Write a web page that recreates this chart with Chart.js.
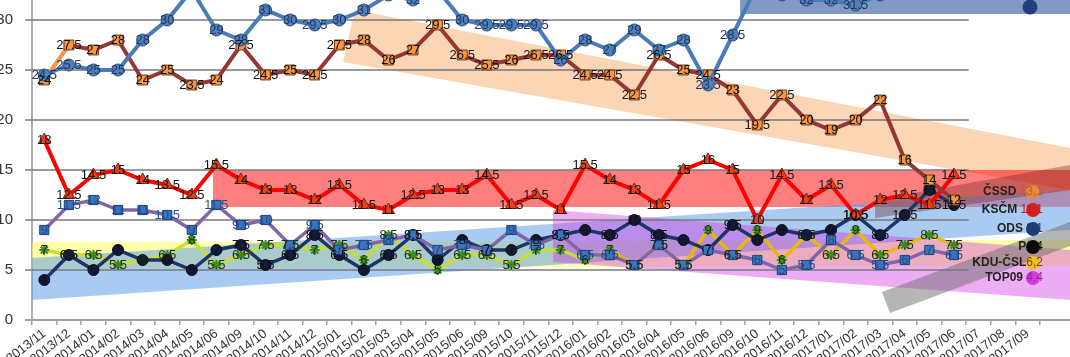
<!DOCTYPE html>
<html><head><meta charset="utf-8">
<style>html,body{margin:0;padding:0;background:#fff;overflow:hidden}#wrap{width:1070px;height:357px}</style>
<script src="https://cdn.jsdelivr.net/npm/chart.js@4.4.1/dist/chart.umd.min.js"></script>
</head><body><div id="wrap"><canvas id="c" width="1070" height="357"></canvas></div>
<script>
const categories = ['2013/11','2013/12','2014/01','2014/02','2014/03','2014/04','2014/05','2014/06','2014/09','2014/10','2014/11','2014/12','2015/01','2015/02','2015/03','2015/04','2015/05','2015/06','2015/09','2015/10','2015/11','2015/12','2016/01','2016/02','2016/03','2016/04','2016/05','2016/06','2016/09','2016/10','2016/11','2016/12','2017/01','2017/02','2017/03','2017/04','2017/05','2017/06','2017/07','2017/08','2017/09'];
const ano   = [24.5,25.5,25,25,28,30,33,29,28,31,30,29.5,30,31,32.5,32,33,30,29.5,29.5,29.5,26,28,27,29,27,28,23.5,28.5,33.5,32.5,32,32,31.5,32.5,33,33,33,null,null,null];
const cssd  = [24,27.5,27,28,24,25,23.5,24,27.5,24.5,25,24.5,27.5,28,26,27,29.5,26.5,25.5,26,26.5,26.5,24.5,24.5,22.5,26.5,25,24.5,23,19.5,22.5,20,19,20,22,16,14,12,null,null,null];
const kscm  = [18,12.5,14.5,15,14,13.5,12.5,15.5,14,13,13,12,13.5,11.5,11,12.5,13,13,14.5,11.5,12.5,11,15.5,14,13,11.5,15,16,15,10,14.5,12,13.5,10.5,12,12.5,11.5,14.5,null,null,null];
const top09 = [9,11.5,12,11,11,10.5,9,11.5,9.5,10,7.5,9.5,7,7.5,8,8.5,7,7.5,7,9,7.5,8.5,6.5,6.5,5.5,7.5,5.5,7,6.5,6,5,5.5,8,6.5,5.5,6,7,6.5,null,null,null];
const ods   = [4,6.5,5,7,6,6,5,7,7.5,5.5,6.5,8.5,6.5,5,6.5,8.5,6,8,7,7,8,8.5,9,8.5,10,8.5,8,7,9.5,8,9,8.5,9,10.5,8.5,10.5,13,11.5,null,null,null];
const kdu   = [7,6.5,6.5,5.5,6,6.5,8,5.5,6.5,7.5,7.5,7,7.5,6,8.5,6.5,5,6.5,6.5,5.5,7,7,6,7,5.5,7.5,5.5,9,6.5,9,6,8.5,6.5,9,6.5,7.5,8.5,7.5,null,null,null];
const yTicks = [0,5,10,15,20,25,30];
const legendNames  = ['ČSSD ','KSČM ','ODS ','P','KDU-ČSL','TOP09 '];
const legendValues = ['13,1','11,1','9,1','6,4','6,2','4,4'];

// layout / style (not data)
const legendY = [12.8,11.0,9.1,7.3,5.7,4.2];
const legendColors = ['#e8883a','#d42020','#1f3d72','#0a0a0a','#f0c020','#d63be0'];
const legendTextColors = ['#b8622a','#c01818','#1f3d72','#0a0a0a','#6a4a10','#8a2a9a'];
const bands = [
  {c:'rgba(248,178,118,0.55)', p:[[12.63,31],[41.72,17.2],[41.72,13],[12.15,25.8]]},
  {c:'rgba(255,0,0,0.5)', p:[[6.86,15],[41.72,15],[41.72,11.3],[6.86,11.3]]},
  {c:'rgba(255,255,80,0.5)', p:[[-0.5,7.8],[41.72,8.0],[41.72,5.4],[-0.5,5.2]]},
  {c:'rgba(100,160,230,0.55)', p:[[-0.5,6.2],[41.72,13.0],[41.72,9.0],[-0.5,2.0]]},
  {c:'rgba(210,50,230,0.4)', p:[[20.69,11],[41.72,7],[41.72,2],[20.69,5.8]]},
  {c:'rgba(110,30,30,0.35)', p:[[33.79,12],[41.72,15.5],[41.72,13],[33.79,10.2]]},
  {c:'rgba(110,110,110,0.5)', p:[[34.07,2.8],[41.72,9.8],[41.72,7.4],[34.4,0.7]]},
  {c:'rgba(60,100,165,0.65)', p:[[28.3,30.6],[41.72,30.6],[41.72,33],[28.3,33]]}
];
const gridEnd = 37.6;

const fmt = v => Number.isInteger(v) ? String(v) : v.toFixed(1);

const bgPlugin = {
  id:'bg',
  beforeDatasetsDraw(chart){
    const {ctx, scales:{x,y}, chartArea:a} = chart;
    ctx.save();
    bands.forEach(b=>{
      ctx.fillStyle=b.c; ctx.beginPath();
      b.p.forEach((q,i)=>{const px=x.getPixelForValue(q[0]), py=y.getPixelForValue(q[1]); i?ctx.lineTo(px,py):ctx.moveTo(px,py);});
      ctx.closePath(); ctx.fill();
    });
    ctx.strokeStyle='rgba(120,120,120,0.75)'; ctx.lineWidth=2;
    const xe = x.getPixelForValue(gridEnd);
    yTicks.forEach(v=>{ if(v===0) return; const py=Math.round(y.getPixelForValue(v)); ctx.beginPath(); ctx.moveTo(a.left-7,py); ctx.lineTo(xe,py); ctx.stroke();});
    const p0=Math.round(y.getPixelForValue(0));
    ctx.strokeStyle='#a0a0a0'; ctx.beginPath(); ctx.moveTo(a.left-7,p0); ctx.lineTo(chart.width,p0); ctx.stroke();
    ctx.restore();
  },
  afterDatasetsDraw(chart){
    const ctx=chart.ctx; ctx.save();
    ctx.font='13px "Liberation Sans", Arial, sans-serif'; ctx.textAlign='center'; ctx.textBaseline='middle';
    chart.data.datasets.forEach((ds,di)=>{
      const meta=chart.getDatasetMeta(di);
      ctx.fillStyle=ds.labelColor;
      meta.data.forEach((pt,i)=>{const v=ds.data[i]; if(v==null) return; ctx.fillText(fmt(v),pt.x,pt.y);});
    });
    ctx.restore();
  },
  afterDraw(chart){
    const {ctx, scales:{y}, chartArea:a}=chart; ctx.save();
    const cx=a.right-7;
    ctx.fillStyle='#1f3f80'; ctx.beginPath(); ctx.arc(cx-3,y.getPixelForValue(31.3),7.5,0,Math.PI*2); ctx.fill();
    legendNames.forEach((n,i)=>{
      const py=y.getPixelForValue(legendY[i]);
      ctx.fillStyle=legendColors[i]; ctx.beginPath(); ctx.arc(cx,py,7,0,Math.PI*2); ctx.fill();
      ctx.textBaseline='middle';
      ctx.font='12px "Liberation Sans", Arial, sans-serif';
      const vw=ctx.measureText(legendValues[i]).width;
      ctx.font='bold 12px "Liberation Sans", Arial, sans-serif';
      const nw=ctx.measureText(n).width;
      const xr=a.right+3;
      ctx.fillStyle='#222'; ctx.textAlign='left'; ctx.fillText(n,xr-vw-nw,py);
      ctx.font='12px "Liberation Sans", Arial, sans-serif';
      ctx.fillStyle=legendTextColors[i]; ctx.fillText(legendValues[i],xr-vw,py);
    });
    ctx.restore();
  }
};

const mk=(label,data,o)=>Object.assign({label,data,tension:0,borderWidth:4,pointRadius:6,pointBorderWidth:1,spanGaps:false},o);

new Chart(document.getElementById('c'),{
  type:'line',
  data:{labels:categories,datasets:[
    mk('ANO',ano,{borderColor:'#4a7bb8',backgroundColor:'#4f81bd',pointBackgroundColor:'#4f81bd',pointBorderColor:'#2c4d75',pointStyle:'circle',labelColor:'#1f3864'}),
    mk('ČSSD',cssd,{borderColor:'#953735',pointBackgroundColor:'#f79646',pointBorderColor:'#6b3a10',pointStyle:'rect',pointRadius:7,labelColor:'#111',
      segment:{borderColor:c=>c.p0DataIndex===0?'#f79646':'#953735'}}),
    mk('KSČM',kscm,{borderColor:'#ff0000',pointBackgroundColor:'#e8401a',pointBorderColor:'#7a2a10',pointStyle:'triangle',pointRadius:7,labelColor:'#111'}),
    mk('TOP09',top09,{borderColor:'#7f66a6',borderWidth:3.5,pointBackgroundColor:'#3a74c0',pointBorderColor:'#1f3d72',pointStyle:'rect',pointRadius:6.5,labelColor:'#1f4e8c'}),
    mk('ODS',ods,{borderColor:'#1c3466',borderWidth:3.5,pointBackgroundColor:'#141a3a',pointBorderColor:'#0a0a20',pointStyle:'circle',pointRadius:5.5,labelColor:'#111'}),
    mk('KDU-ČSL',kdu,{borderColor:'#c4de3a',borderWidth:3.5,pointBackgroundColor:'#4e9a2a',pointBorderColor:'#3d8a20',pointBorderWidth:2,pointStyle:'star',pointRadius:5,labelColor:'#1d2d10',
      segment:{borderColor:c=>c.p0DataIndex>=23?'#e8b90c':'#c4de3a'}})
  ]},
  options:{
    responsive:false, animation:false, devicePixelRatio:1,
    layout:{autoPadding:false,padding:{left:0,right:30,top:0,bottom:0}},
    plugins:{legend:{display:false},tooltip:{enabled:false}},
    scales:{
      x:{offset:true,
        grid:{display:true,drawOnChartArea:false,drawTicks:true,tickLength:5,color:'#a0a0a0',lineWidth:1.5,offset:true},
        border:{display:false},
        ticks:{autoSkip:false,maxRotation:38,minRotation:38,padding:1,color:'#333',font:{family:'"Liberation Sans", Arial, sans-serif',size:13}},
        afterFit(s){s.height=37;s.paddingLeft=0;s.paddingRight=0;s.paddingTop=0;s.paddingBottom=0;}},
      y:{min:0,max:32,
        grid:{display:false},
        border:{display:true,color:'#b0b0b0',width:2},
        ticks:{stepSize:5,padding:11,color:'#333',font:{family:'"Liberation Sans", Arial, sans-serif',size:15}},
        afterBuildTicks(s){s.ticks=yTicks.map(v=>({value:v}));},
        afterFit(s){s.width=32;s.paddingTop=0;s.paddingBottom=0;}}
    }
  },
  plugins:[bgPlugin]
});
</script></body></html>
